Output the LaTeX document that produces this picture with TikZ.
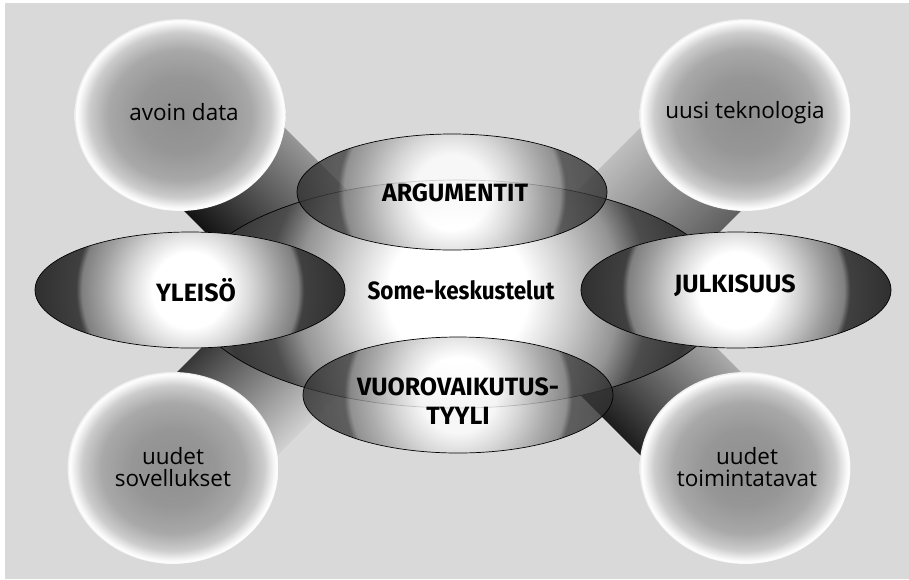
\documentclass[tikz,border=0pt]{standalone}
\usepackage{fontspec}
\usetikzlibrary{shapes.geometric}
\newfontfamily\cornerfont{Open Sans}
\newfontfamily\labelfont{Fira Sans}
\definecolor{bgc}{RGB}{217,217,217}
\pgfdeclareradialshading{cornersh}{\pgfpointorigin}{rgb(0bp)=(.56,.56,.56); rgb(10bp)=(.59,.59,.59); rgb(17bp)=(.66,.66,.66); rgb(21.5bp)=(.8,.8,.8); rgb(24bp)=(.97,.97,.97); rgb(24.6bp)=(1,1,1); rgb(25bp)=(.92,.92,.92); rgb(50bp)=(.92,.92,.92)}
\pgfdeclareradialshading{mainsh}{\pgfpointorigin}{rgb(0bp)=(1,1,1); rgb(6.5bp)=(1,1,1); rgb(11bp)=(.78,.78,.78); rgb(14.8bp)=(.58,.58,.58); rgb(17.6bp)=(.3,.3,.3); rgb(21.3bp)=(.22,.22,.22); rgb(25bp)=(.4,.4,.4); rgb(50bp)=(.4,.4,.4)}
\pgfdeclareradialshading{innersh}{\pgfpointorigin}{rgb(0bp)=(1,1,1); rgb(5.9bp)=(1,1,1); rgb(9.4bp)=(.85,.85,.85); rgb(14.1bp)=(.62,.62,.62); rgb(16.9bp)=(.5,.5,.5); rgb(17.8bp)=(.25,.25,.25); rgb(25bp)=(.18,.18,.18); rgb(50bp)=(.18,.18,.18)}
\begin{document}
\begin{tikzpicture}[x=1pt,y=-1pt,
  corner/.style={ellipse, minimum width=211pt, minimum height=192pt, inner sep=0pt, shading=cornersh},
  cornertext/.style={font=\cornerfont\fontsize{22.5}{22}\selectfont, text=black, align=center, inner sep=0pt},
  mainell/.style={ellipse, draw=black, line width=0.7pt, minimum width=536pt, minimum height=228pt, inner sep=0pt,
    path picture={\shade[shading=mainsh] (path picture bounding box.center) circle (270pt);}},
  innerell/.style={ellipse, draw=black, line width=0.7pt, minimum width=310pt, minimum height=116pt, inner sep=0pt,
    path picture={\shade[shading=innersh, fill opacity=#1] (path picture bounding box.center) circle (160pt);}},
  boldtext/.style={font=\labelfont\bfseries\fontsize{25}{29}\selectfont, text=black, align=center, inner sep=0pt}]
\useasboundingbox (0,0) rectangle (909,579);
\fill[white] (0,0) rectangle (909,579);
\fill[bgc] (5,3) rectangle (909,579);
% circle centres
\coordinate (ctl) at (180,115);
\coordinate (ctr) at (745,115);
\coordinate (cbl) at (173,468);
\coordinate (cbr) at (745,468);
% bands (visual top side of each rectangle before rotation = top color)
\begin{scope}[transform canvas={rotate around={-45:(ctl)}}]
  \shade[top color={rgb,255:red,150;green,150;blue,150}, bottom color={rgb,255:red,18;green,18;blue,18}] (ctl) ++(0,-65) rectangle ++(230,130);
\end{scope}
\begin{scope}[transform canvas={rotate around={-135:(ctr)}}]
  \shade[top color={rgb,255:red,95;green,95;blue,95}, bottom color={rgb,255:red,190;green,190;blue,190}] (ctr) ++(0,-65) rectangle ++(230,130);
\end{scope}
\begin{scope}[transform canvas={rotate around={45:(cbl)}}]
  \shade[top color={rgb,255:red,55;green,55;blue,55}, bottom color={rgb,255:red,210;green,210;blue,210}] (cbl) ++(0,-65) rectangle ++(230,130);
\end{scope}
\begin{scope}[transform canvas={rotate around={135:(cbr)}}]
  \shade[top color={rgb,255:red,28;green,28;blue,28}, bottom color={rgb,255:red,170;green,170;blue,170}] (cbr) ++(0,-65) rectangle ++(230,130);
\end{scope}
% corner circles
\node[corner] (tl) at (ctl) {};
\node[corner] (tr) at (ctr) {};
\node[corner] (bl) at (cbl) {};
\node[corner] (br) at (cbr) {};
\node[cornertext] (tltxt) at (184,112) {avoin data};
\node[cornertext] (trtxt) at (745,113) {uusi teknologia};
\node[cornertext] (bltxt) at (173,467) {uudet\\sovellukset};
\node[cornertext] (brtxt) at (747,467) {uudet\\toimintatavat};
% central ellipse
\node[mainell] (main) at (458,294) {};
% inner ellipses
\node[innerell=0.8] (arg) at (452,192) {};
\node[innerell=1] (yle) at (190,290) {};
\node[innerell=1] (jul) at (736,290) {};
\node[innerell=0.8] (vuo) at (458,395) {};
% labels
\node[boldtext] (maintxt) at (461,290) {\scalebox{0.9}[1]{Some-keskustelut}};
\node[boldtext] (argtxt) at (455,193) {ARGUMENTIT};
\node[boldtext] (yletxt) at (196,290) {YLEISÖ};
\node[boldtext] (jultxt) at (735,286) {JULKISUUS};
\node[boldtext] (vuotxt) at (458,401) {VUOROVAIKUTUS-\\TYYLI};
\end{tikzpicture}
\end{document}
